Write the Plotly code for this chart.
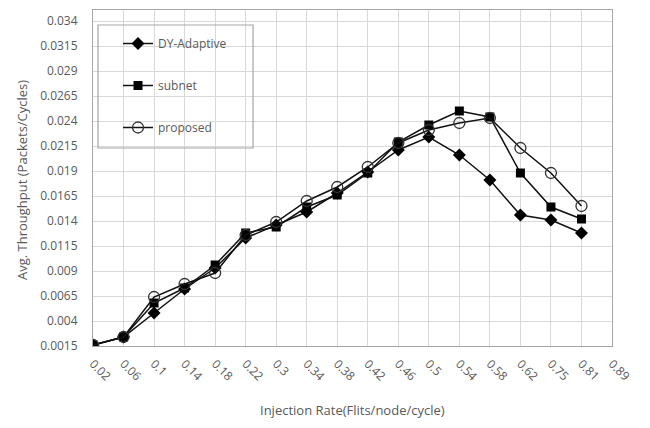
import plotly.graph_objects as go

categories = ["0.02", "0.06", "0.1", "0.14", "0.18", "0.22", "0.3", "0.34", "0.38",
              "0.42", "0.46", "0.5", "0.54", "0.58", "0.62", "0.75", "0.81", "0.89"]
x_data = categories[:17]

dy_adaptive = [0.0016, 0.0024, 0.0048, 0.0072, 0.0093, 0.0123, 0.0136, 0.0149, 0.0168,
               0.0189, 0.0211, 0.0224, 0.0206, 0.0181, 0.0146, 0.0141, 0.0128]
subnet = [0.0016, 0.0024, 0.0058, 0.0073, 0.0096, 0.0128, 0.0134, 0.0154, 0.0166,
          0.0188, 0.0219, 0.0236, 0.0250, 0.0244, 0.0188, 0.0154, 0.0142]
proposed = [0.0016, 0.0024, 0.0064, 0.0077, 0.0088, 0.0126, 0.0139, 0.0160, 0.0174,
            0.0194, 0.0218, 0.0231, 0.0238, 0.0243, 0.0213, 0.0188, 0.0155]

y_ticks = [0.0015, 0.004, 0.0065, 0.009, 0.0115, 0.014, 0.0165, 0.019, 0.0215,
           0.024, 0.0265, 0.029, 0.0315, 0.034]
y_ticktext = ["0.0015", "0.004", "0.0065", "0.009", "0.0115", "0.014", "0.0165", "0.019",
              "0.0215", "0.024", "0.0265", "0.029", "0.0315", "0.034"]

FONT = "Open Sans"
GRAY = "#595959"

# page body has an 8px default margin; compensate
OFF = 8
W, H = 650 - OFF, 428 - OFF
L, T = 93 - OFF, 10 - OFF
R, B = 650 - 612, 428 - 346
PW, PH = W - L - R, H - T - B


def fx(px):
    return (px - 93) / PW


def fy(py):
    return (346 - py) / PH


fig = go.Figure()
fig.add_trace(go.Scatter(
    x=x_data, y=dy_adaptive, name="DY-Adaptive", mode="lines+markers",
    line=dict(color="#111111", width=1.5),
    marker=dict(symbol="diamond", size=10, color="#000000"),
    legendgroup="a"))
fig.add_trace(go.Scatter(
    x=x_data, y=subnet, name="subnet", mode="lines+markers",
    line=dict(color="#111111", width=1.5),
    marker=dict(symbol="square", size=9, color="#000000"),
    legendgroup="b"))
fig.add_trace(go.Scatter(
    x=x_data, y=proposed, name="proposed", mode="lines+markers",
    line=dict(color="#111111", width=1.5),
    marker=dict(symbol="circle", size=11, color="rgba(0,0,0,0)",
                line=dict(color="#333333", width=1.3)),
    legendgroup="c"))

fig.update_layout(
    width=W, height=H,
    margin=dict(l=L, r=R, t=T, b=B, autoexpand=False),
    paper_bgcolor="white", plot_bgcolor="white",
    font=dict(family=FONT, size=12, color=GRAY),
    showlegend=True,
    legend=dict(x=fx(118), y=fy(29), xanchor="left", yanchor="top",
                bgcolor="rgba(0,0,0,0)", borderwidth=0,
                tracegroupgap=23, font=dict(family=FONT, size=12, color=GRAY)),
    xaxis=dict(type="category", categoryorder="array", categoryarray=categories,
               range=[0, 17], tickangle=45, showgrid=True, gridcolor="#d9d9d9",
               gridwidth=1, showline=True, linecolor="#a6a6a6", linewidth=1,
               mirror=True, ticks="", tickfont=dict(size=12, color=GRAY),
               automargin=False, ticklabelstandoff=5),
    yaxis=dict(range=[0.0015, 0.0351], tickvals=y_ticks, ticktext=y_ticktext,
               showgrid=True, gridcolor="#d9d9d9", gridwidth=1, zeroline=False,
               showline=True, linecolor="#a6a6a6", linewidth=1, mirror=True,
               ticks="", tickfont=dict(size=12, color=GRAY),
               automargin=False, ticklabelstandoff=12),
    annotations=[
        dict(text="Injection Rate(Flits/node/cycle)", xref="paper", yref="paper",
             x=fx(352), y=fy(410), xanchor="center", yanchor="middle",
             showarrow=False, font=dict(size=13, color=GRAY)),
        dict(text="Avg. Throughput (Packets/Cycles)", xref="paper", yref="paper",
             x=fx(22), y=fy(180), xanchor="center", yanchor="middle",
             textangle=-90, showarrow=False, font=dict(size=13, color=GRAY)),
    ],
    shapes=[dict(type="rect", xref="paper", yref="paper",
                 x0=fx(98), x1=fx(253), y0=fy(148), y1=fy(25),
                 line=dict(color="#a6a6a6", width=1.2), fillcolor="rgba(0,0,0,0)")],
)

fig.write_html("out.html")
